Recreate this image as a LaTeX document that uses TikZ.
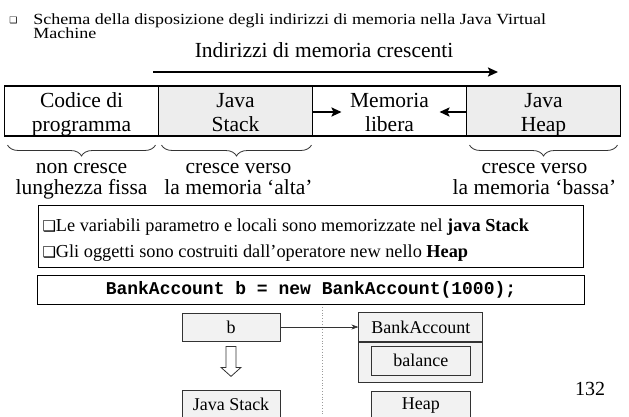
\documentclass[tikz,border=0pt]{standalone}
\usepackage{fontspec}
\setmainfont{Liberation Serif}
\setmonofont{Liberation Mono}
\newfontfamily\symfont{DejaVu Sans}
\newfontfamily\titlefont{Liberation Serif}[FakeStretch=1.16]
\usetikzlibrary{arrows.meta, positioning, decorations.pathreplacing, calc}
\definecolor{cellgrey}{HTML}{EDEDED}
\definecolor{boxgrey}{HTML}{F2F2F2}
\definecolor{cdark}{HTML}{333333}
\definecolor{cdots}{HTML}{9A9A9A}
\newcommand{\fsize}[2]{\fontsize{#1}{#2}\selectfont\lineskiplimit=-20pt\relax}
\newcommand{\sqbullet}{{\symfont\fsize{15}{15}❑}}
\tikzset{
  every picture/.style={x=1pt, y=-1pt, line width=0.8pt},
  cell/.style={draw, fill=#1, line width=1.2pt, minimum width=154pt, minimum height=50pt,
    inner sep=0pt, outer sep=0pt, align=center, text height=45pt, text depth=5pt,
    font=\fsize{21.5}{24}},
  cell/.default=white,
  bracetext/.style={anchor=base, align=center, inner sep=0pt, font=\fsize{21.5}{21}},
  brace/.style={decorate, decoration={brace, mirror, amplitude=11pt}, draw=cdark, line width=0.8pt},
  fatarrow/.style={-{Stealth[length=10pt, width=9pt, inset=2pt]}, line width=2pt},
  notebox/.style={draw, line width=1pt, anchor=north west, align=flush left, text width=537pt,
    minimum height=62pt, inner xsep=4pt, inner ysep=6pt, font=\fsize{18.3}{26}},
  codebox/.style={draw, line width=1pt, minimum width=547pt, minimum height=29pt,
    font=\fsize{18}{20}\ttfamily\bfseries},
  smallbox/.style={draw=cdark, fill=boxgrey, minimum width=98pt, minimum height=28pt,
    inner sep=0pt, font=\fsize{18}{20}},
  ptr/.style={-{Stealth[length=7pt, width=5pt]}, line width=0.6pt, draw=cdark},
  hollow/.style={draw=cdark, fill=white, line width=0.8pt},
  sepline/.style={draw=cdots, dotted, line width=0.8pt},
}

\begin{document}
\begin{tikzpicture}
  \useasboundingbox (0,0) rectangle (629,416);
  % title
  \node[font=\symfont\fsize{9}{9}, inner sep=0pt] (titlebullet) at (13.5,20) {❑};
  \node[anchor=base west, align=left, inner sep=0pt, font=\titlefont\fsize{15.5}{14}] (title) at (33,38.3)
    {Schema della disposizione degli indirizzi di memoria nella Java Virtual\\Machine};
  \node[anchor=base, inner sep=0pt, font=\fsize{21.5}{24}] (growth) at (324,57) {Indirizzi di memoria crescenti};
  \coordinate (addrL) at (153,72);
  \coordinate (addrR) at (498,72);
  \draw[fatarrow] (addrL) -- (addrR);

  % memory layout
  \node[cell] (code) at (81.5,111) {Codice di\\programma};
  \node[cell=cellgrey, right=0pt of code] (stack) {Java\\Stack};
  \node[cell, right=0pt of stack] (free) {Memoria\\libera};
  \node[cell=cellgrey, right=0pt of free] (heap) {Java\\Heap};
  \coordinate (stacktip) at ([xshift=29pt, yshift=-1pt]stack.east);
  \coordinate (heaptip) at ([xshift=-27pt, yshift=-1pt]heap.west);
  \draw[fatarrow] ([yshift=-1pt]stack.east) -- (stacktip);
  \draw[fatarrow] ([yshift=-1pt]heap.west) -- (heaptip);

  \draw[brace] ([xshift=3pt, yshift=-9pt]code.south west) -- ([xshift=-3pt, yshift=-9pt]code.south east);
  \draw[brace] ([xshift=3pt, yshift=-9pt]stack.south west) -- ([xshift=-1pt, yshift=-9pt]stack.south east);
  \draw[brace] ([xshift=3pt, yshift=-9pt]heap.south west) -- ([xshift=-3pt, yshift=-9pt]heap.south east);
  \node[bracetext] (codenote) at ([yshift=-58pt]code.south) {non cresce\\lunghezza fissa};
  \node[bracetext] (stacknote) at ([xshift=3pt, yshift=-58pt]stack.south) {cresce verso\\la memoria ‘alta’};
  \node[bracetext] (heapnote) at ([xshift=-9pt, yshift=-58pt]heap.south) {cresce verso\\la memoria ‘bassa’};

  % notes and code line
  \node[notebox] (notes) at (38,205)
    {\rule{0pt}{19pt}\sqbullet Le variabili parametro e locali sono memorizzate nel \textbf{java Stack}\\
     \sqbullet Gli oggetti sono costruiti dall’operatore new nello \textbf{Heap}};
  \node[codebox, below=6.5pt of notes] (codeline) {BankAccount b = new BankAccount(1000);};

  % stack and heap
  \node[smallbox] (b) at (231,327) {b};
  \node[smallbox, below=49pt of b] (jstack) {Java Stack};
  \node[smallbox, minimum width=124pt, minimum height=29pt, right=78pt of b] (cls) {BankAccount};
  \node[smallbox, minimum width=124pt, minimum height=40pt, below=0pt of cls] (body) {};
  \node[smallbox, minimum width=99pt, minimum height=29pt] (balance) at ([yshift=1.5pt]body) {balance};
  \node[smallbox, minimum width=99pt, below=8pt of body] (heapbox) {Heap};
  \coordinate (sepTop) at (322,307);
  \coordinate (sepBot) at (322,416);
  \draw[sepline] (sepTop) -- (sepBot);
  \draw[ptr] (b.east) -- (cls.west);
  \draw[hollow] ($(b.south)+(-5,5)$) -- ++(0,21) -- ++(-5,0) -- ++(10,9) -- ++(10,-9)
    -- ++(-5,0) -- ++(0,-21) -- cycle;
  \node[anchor=base, inner sep=0pt, font=\fsize{20}{20}] (pagenum) at (590,395) {132};
\end{tikzpicture}
\end{document}
